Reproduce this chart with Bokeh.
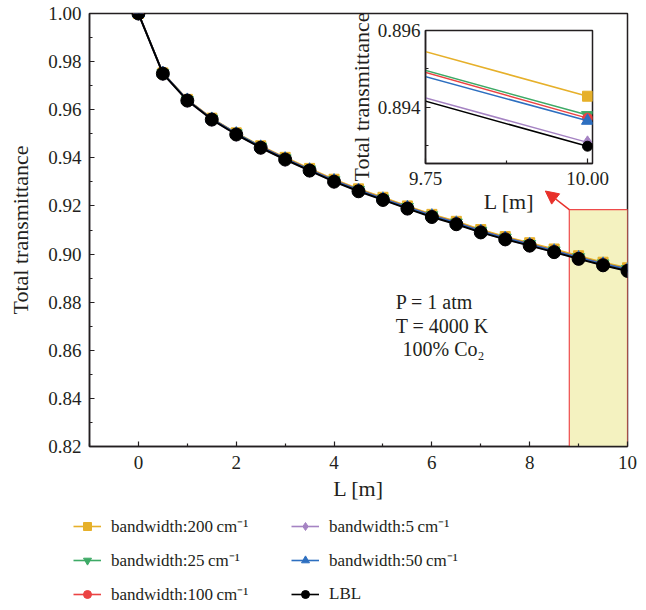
from bokeh.plotting import figure
from bokeh.layouts import column
from bokeh.models import (Range1d, FixedTicker, PrintfTickFormatter, Legend, LegendItem,
                          BoxAnnotation, Arrow, NormalHead, Label, ColumnDataSource)
from bokeh.embed import file_html
from bokeh.resources import INLINE

# ---------------- data ----------------
L = [0, 0.5, 1, 1.5, 2, 2.5, 3, 3.5, 4, 4.5, 5, 5.5, 6, 6.5, 7, 7.5, 8, 8.5, 9, 9.5, 10]

bw200 = [1.0, 0.9753, 0.9643, 0.9565, 0.9504, 0.9450, 0.9402, 0.9356, 0.9311, 0.9271, 0.9236,
         0.9200, 0.9165, 0.9136, 0.9102, 0.9073, 0.9047, 0.9021, 0.8993, 0.89661, 0.89429]
bw25 = [1.0, 0.9752, 0.9641, 0.9563, 0.9502, 0.9447, 0.9398, 0.9352, 0.9307, 0.9267, 0.9231,
        0.9196, 0.9161, 0.9131, 0.9097, 0.9068, 0.9042, 0.9015, 0.8987, 0.89612, 0.89380]
bw100 = [1.0, 0.9752, 0.9641, 0.9563, 0.9501, 0.9447, 0.9398, 0.9352, 0.9307, 0.9267, 0.9231,
         0.9196, 0.9161, 0.9131, 0.9097, 0.9068, 0.9042, 0.9015, 0.8987, 0.89610, 0.89372]
bw5 = [1.0, 0.9750, 0.9638, 0.9559, 0.9497, 0.9442, 0.9393, 0.9347, 0.9302, 0.9262, 0.9226,
       0.9190, 0.9155, 0.9125, 0.9091, 0.9062, 0.9036, 0.9009, 0.8981, 0.89540, 0.89309]
bw50 = [1.0, 0.9752, 0.9641, 0.9562, 0.9501, 0.9446, 0.9397, 0.9351, 0.9306, 0.9266, 0.9230,
        0.9195, 0.9160, 0.9130, 0.9096, 0.9067, 0.9041, 0.9014, 0.8986, 0.89595, 0.89365]
lbl = [1.0, 0.9750, 0.9638, 0.9559, 0.9497, 0.9442, 0.9393, 0.9347, 0.9301, 0.9261, 0.9225,
       0.9189, 0.9154, 0.9124, 0.9090, 0.9061, 0.9035, 0.9008, 0.8980, 0.89533, 0.89299]

labels = ["bandwidth:200\u2009cm\u207B\u00B9", "bandwidth:25\u2009cm\u207B\u00B9",
          "bandwidth:100\u2009cm\u207B\u00B9", "bandwidth:5\u2009cm\u207B\u00B9",
          "bandwidth:50\u2009cm\u207B\u00B9", "LBL"]

main_xticks = [0, 2, 4, 6, 8, 10]
main_xminor = [-1, 1, 3, 5, 7, 9]
main_yticks = [0.82, 0.84, 0.86, 0.88, 0.90, 0.92, 0.94, 0.96, 0.98, 1.00]
main_yminor = [0.83, 0.85, 0.87, 0.89, 0.91, 0.93, 0.95, 0.97, 0.99]
inset_xticks = [9.75, 10.0]
inset_xminor = [9.875]
inset_yticks = [0.894, 0.896]
inset_yminor = [0.893, 0.895]

annot = ["P = 1 atm", "T = 4000 K", "100% Co\u2082"]

# ---------------- style ----------------
FONT = "Liberation Serif"
TXT = "#231F20"
series = [
    (bw200, "#E6B02A", "square", 10, 10),
    (bw25, "#3DAA66", "inverted_triangle", 12, 12),
    (bw100, "#EB4343", "circle", 10, 10),
    (bw5, "#A583C3", "diamond", 14, 13),
    (bw50, "#2D6FC0", "triangle", 12, 12),
    (lbl, "#000000", "circle", 13, 10),
]


def style_axes(fig, tick_size, label_size):
    for ax in (fig.xaxis[0], fig.yaxis[0]):
        ax.major_label_text_font = FONT
        ax.major_label_text_font_size = tick_size
        ax.major_label_text_color = TXT
        ax.axis_label_text_font = FONT
        ax.axis_label_text_font_size = label_size
        ax.axis_label_text_font_style = "normal"
        ax.axis_label_text_color = TXT
        ax.axis_line_color = "#231F20"
        ax.axis_line_width = 1.5
        ax.major_tick_line_color = "#231F20"
        ax.minor_tick_line_color = "#231F20"
        ax.major_tick_line_width = 1.2
        ax.minor_tick_line_width = 1.2
        ax.major_tick_in = 5
        ax.major_tick_out = 0
        ax.minor_tick_in = 3
        ax.minor_tick_out = 0
    fig.xgrid.visible = False
    fig.ygrid.visible = False
    fig.outline_line_color = "#231F20"
    fig.outline_line_width = 1.5
    fig.outline_line_alpha = 1


# ---------------- main figure ----------------
p = figure(frame_width=538, frame_height=433, output_backend="svg", toolbar_location=None,
           title=None, x_range=Range1d(-1, 10), y_range=Range1d(0.82, 1.0),
           min_border_left=89, min_border_right=11, min_border_top=13, min_border_bottom=0,
           x_axis_label="L [m]", y_axis_label="Total transmittance")
p.frame_align = False
p.background_fill_color = "white"
p.border_fill_color = "white"

style_axes(p, "19px", "22px")
p.xaxis.ticker = FixedTicker(ticks=main_xticks, minor_ticks=main_xminor)
p.yaxis.ticker = FixedTicker(ticks=main_yticks, minor_ticks=main_yminor)
p.xaxis.formatter = PrintfTickFormatter(format="%d")
p.yaxis.formatter = PrintfTickFormatter(format="%.2f")
p.xaxis.major_label_standoff = 9
p.yaxis.major_label_standoff = 8
p.xaxis.axis_label_standoff = 4
p.yaxis.axis_label_standoff = 12

p.add_layout(BoxAnnotation(left=8.81, right=10, bottom=0.82, top=0.9185,
                           fill_color="#F4F2C0", fill_alpha=1, line_color="#EE4A4A",
                           line_alpha=1, line_width=1.2, level="underlay"))

for vals, col, mk, sz, _ in series:
    src = ColumnDataSource(dict(x=L, y=vals))
    lw = 2 if col == "#000000" else 1.6
    p.line("x", "y", source=src, line_color=col, line_width=lw)
    p.scatter("x", "y", source=src, marker=mk, size=sz, fill_color=col, line_color=col)

p.add_layout(Arrow(end=NormalHead(size=13, fill_color="#E8302A", line_color="#E8302A"),
                   x_start=8.81, y_start=0.9185, x_end=8.32, y_end=0.9262,
                   line_color="#E8302A", line_width=1.5))

for txt, x, y in zip(annot, [5.26, 5.26, 5.40], [0.8800, 0.8702, 0.8605]):
    p.add_layout(Label(x=x, y=y, text=txt, text_font=FONT, text_font_size="20px",
                       text_color=TXT, text_align="left", text_baseline="middle"))

# ---------------- legend strip (own figure below the plot) ----------------
lg = figure(width=638, height=108, output_backend="svg", toolbar_location=None, title=None,
            x_range=Range1d(20, 21), y_range=Range1d(0, 1),
            x_axis_location=None, y_axis_location=None,
            min_border_left=0, min_border_right=0, min_border_top=0, min_border_bottom=0)
lg.frame_align = False
lg.xgrid.visible = False
lg.ygrid.visible = False
lg.outline_line_color = None
lg.background_fill_alpha = 0
lg.border_fill_alpha = 0

items = []
for (vals, col, mk, _, isz), lab in zip(series, labels):
    src = ColumnDataSource(dict(x=L, y=vals))
    lr = lg.line("x", "y", source=src, line_color=col, line_width=1.6)
    sr = lg.scatter("x", "y", source=src, marker=mk, size=isz, fill_color=col, line_color=col)
    items.append(LegendItem(label=lab, renderers=[lr, sr]))

legend = Legend(items=items, location=(67, 0), orientation="vertical", nrows=3,
                label_text_font=FONT, label_text_font_size="17px", label_text_color=TXT,
                glyph_width=28, glyph_height=20, label_standoff=10, label_width=169,
                spacing=11, padding=6, margin=0,
                background_fill_alpha=0, border_line_alpha=0)
lg.add_layout(legend)

# ---------------- inset ----------------
inset = figure(frame_width=167, frame_height=133, output_backend="svg", toolbar_location=None,
               title=None, x_range=Range1d(9.75, 10.0077), y_range=Range1d(0.89254, 0.896),
               min_border_left=92, min_border_right=30, min_border_top=30, min_border_bottom=44,
               x_axis_label="L [m]", y_axis_label="Total transmittance")
inset.frame_align = False
inset.background_fill_color = "white"
inset.border_fill_alpha = 0
style_axes(inset, "19px", "22px")
inset.xaxis.ticker = FixedTicker(ticks=inset_xticks, minor_ticks=inset_xminor)
inset.yaxis.ticker = FixedTicker(ticks=inset_yticks, minor_ticks=inset_yminor)
inset.xaxis.formatter = PrintfTickFormatter(format="%.2f")
inset.yaxis.formatter = PrintfTickFormatter(format="%.3f")
inset.xaxis.major_label_standoff = 8
inset.yaxis.major_label_standoff = 5
inset.xaxis.axis_label_standoff = 1
inset.yaxis.axis_label_standoff = 1

for vals, col, mk, _, isz in series:
    src = ColumnDataSource(dict(x=L, y=vals))
    inset.line("x", "y", source=src, line_color=col, line_width=1.5)
    inset.scatter("x", "y", source=src, marker=mk, size=isz, fill_color=col, line_color=col)

inset.styles = {"position": "absolute", "left": f"{425 - 92}px", "top": f"{30 - 30}px",
                "z-index": "10"}

root = column(p, lg, inset)
open("out.html", "w").write(file_html(root, INLINE))
